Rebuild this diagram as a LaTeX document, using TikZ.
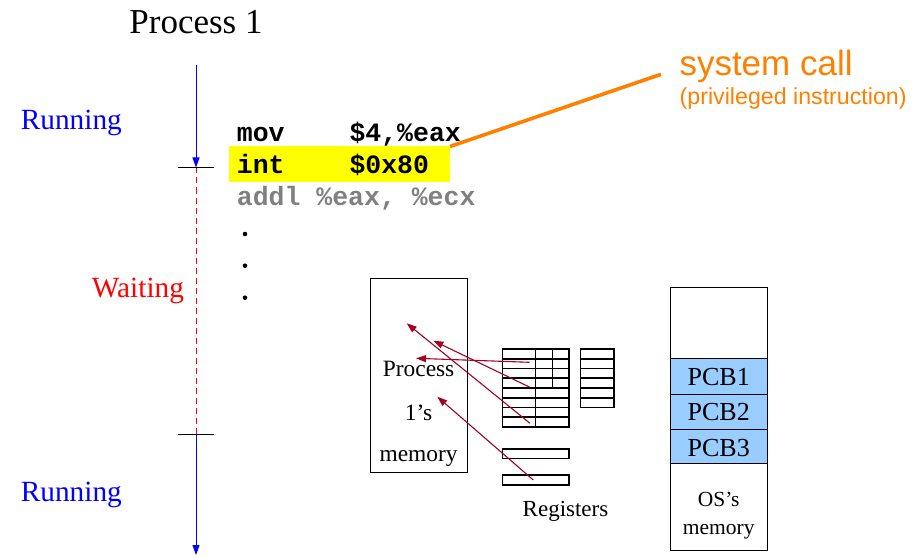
\documentclass[tikz,border=0pt]{standalone}
\usepackage{fontspec}
\setmainfont{Liberation Serif}
\newfontfamily\codefont{Liberation Mono}
\newfontfamily\labelfont{Liberation Sans}
\usetikzlibrary{arrows.meta}

\definecolor{callorange}{RGB}{255,128,0}
\definecolor{linkred}{RGB}{165,0,33}
\definecolor{pcbblue}{RGB}{153,204,255}
\definecolor{codegray}{RGB}{128,128,128}
\definecolor{hilite}{RGB}{255,255,0}

\begin{document}
\begin{tikzpicture}[x=1pt,y=-1pt,
  txt/.style={inner sep=0pt, anchor=base west},
  ctxt/.style={inner sep=0pt, anchor=base},
  code/.style={txt, font=\codefont\bfseries\fontsize{26.5}{30}\selectfont},
  state/.style={txt, font=\fontsize{29.3}{32}\selectfont},
  memtxt/.style={ctxt, font=\fontsize{23.4}{26}\selectfont},
  timeline/.style={blue, line width=1pt, -{Triangle[length=10pt,width=7pt]}},
  tick/.style={black, line width=1pt},
  memlink/.style={linkred, line width=1.1pt, -{Triangle[length=10pt,width=7pt]}},
  regline/.style={black, line width=1.6pt},
  membox/.style={draw=black, line width=0.9pt},
  pcbbox/.style={draw=black, line width=0.9pt, fill=pcbblue, minimum width=97.3pt, inner sep=0pt, anchor=north west},
]
\useasboundingbox (0,0) rectangle (924,559);

% title
\node[ctxt, font=\fontsize{35}{40}\selectfont] (title) at (196,33.3) {Process 1};

% time line of the process
\coordinate (t0) at (196,65);
\coordinate (t1) at (196,167.5);
\coordinate (t2) at (196,434.5);
\coordinate (t3) at (196,555);
\draw[timeline] (t0) -- (t1);
\draw[red, line width=1pt, dash pattern=on 6pt off 4pt] (t1) -- (t2);
\draw[timeline] (t2) -- (t3);
\draw[tick] (t1) ++(-18,0) -- ++(36,0);
\draw[tick] (t2) ++(-18,0) -- ++(36,0);

\node[state, text=blue] (run1) at (20.7,130) {Running};
\node[state, text=red] (wait) at (91.7,297.3) {Waiting};
\node[state, text=blue] (run2) at (20.7,501.7) {Running};

% instruction listing
\fill[hilite] (229,146) rectangle (450,181.7);
\coordinate (hl) at (450,146.5);
\node[code] (mov) at (236.7,141.7) {mov};
\node[code] (movarg) at (349.3,141.7) {\$4,\%eax};
\node[code] (int) at (236.7,173.3) {int};
\node[code] (intarg) at (349.3,173.3) {\$0x80};
\node[code, text=codegray] (addl) at (236.7,205) {addl \%eax, \%ecx};
\foreach \yy [count=\k] in {234,265.7,297.7}
  \fill (245,\yy) circle (2.3pt) coordinate (dot\k);

% system call annotation
\coordinate (callend) at (661,74.3);
\draw[callorange, line width=3.6pt] (hl) -- (callend);
\node[txt, text=callorange, font=\labelfont\fontsize{35}{40}\selectfont] (syscall) at (679.3,76) {system call};
\node[txt, text=callorange, font=\labelfont\fontsize{23.2}{26}\selectfont] (priv) at (679.5,105) {(privileged instruction)};

% process memory
\draw[membox] (370,278.3) rectangle (467.3,472.3);
\node[memtxt] (pm1) at (418.6,376) {Process};
\node[memtxt] (pm2) at (418.6,420) {1’s};
\node[memtxt] (pm3) at (418.6,461.7) {memory};

% register file
\draw[regline] (502.3,349) rectangle (569,427);
\foreach \i in {1,...,7}
  \draw[regline] (502.3,349+\i*9.75) -- (569,349+\i*9.75);
\draw[regline] (535.3,349) -- (535.3,427);
\draw[regline] (552.3,349) -- (552.3,388);
\draw[regline] (580.3,349) rectangle (614,407.5);
\foreach \i in {1,...,5}
  \draw[regline] (580.3,349+\i*9.75) -- (614,349+\i*9.75);
\draw[regline] (502.3,448.7) rectangle (569,458.3);
\draw[regline] (502.3,474.7) rectangle (569,484.7);
\node[ctxt, font=\fontsize{23}{26}\selectfont] (regs) at (565.5,516.7) {Registers};

% register contents saved into memory
\coordinate (r1) at (529.7,362.3);
\coordinate (r2) at (530,387.3);
\coordinate (r3) at (530,423.3);
\coordinate (r4) at (533.3,480);
\coordinate (m1) at (416,358.3);
\coordinate (m2) at (433.3,340.7);
\coordinate (m3) at (406.7,323.3);
\coordinate (m4) at (437.3,396.7);
\draw[memlink] (r1) -- (m1);
\draw[memlink] (r2) -- (m2);
\draw[memlink] (r3) -- (m3);
\draw[memlink] (r4) -- (m4);

% operating system memory
\draw[membox] (670,287.5) rectangle (767.3,550);
\node[pcbbox, minimum height=35.4pt] (pcb1) at (670,358.3) {};
\node[pcbbox, minimum height=35.3pt] (pcb2) at (670,393.7) {};
\node[pcbbox, minimum height=34.3pt] (pcb3) at (670,429) {};
\node[ctxt, font=\fontsize{26}{28}\selectfont] at (718.7,385) {PCB1};
\node[ctxt, font=\fontsize{26}{28}\selectfont] at (718.7,420.7) {PCB2};
\node[ctxt, font=\fontsize{26}{28}\selectfont] at (718.7,456) {PCB3};
\node[ctxt, font=\fontsize{21.5}{24}\selectfont] (os1) at (718.7,506.7) {OS’s};
\node[ctxt, font=\fontsize{21.5}{24}\selectfont] (os2) at (718.7,534) {memory};
\end{tikzpicture}
\end{document}
